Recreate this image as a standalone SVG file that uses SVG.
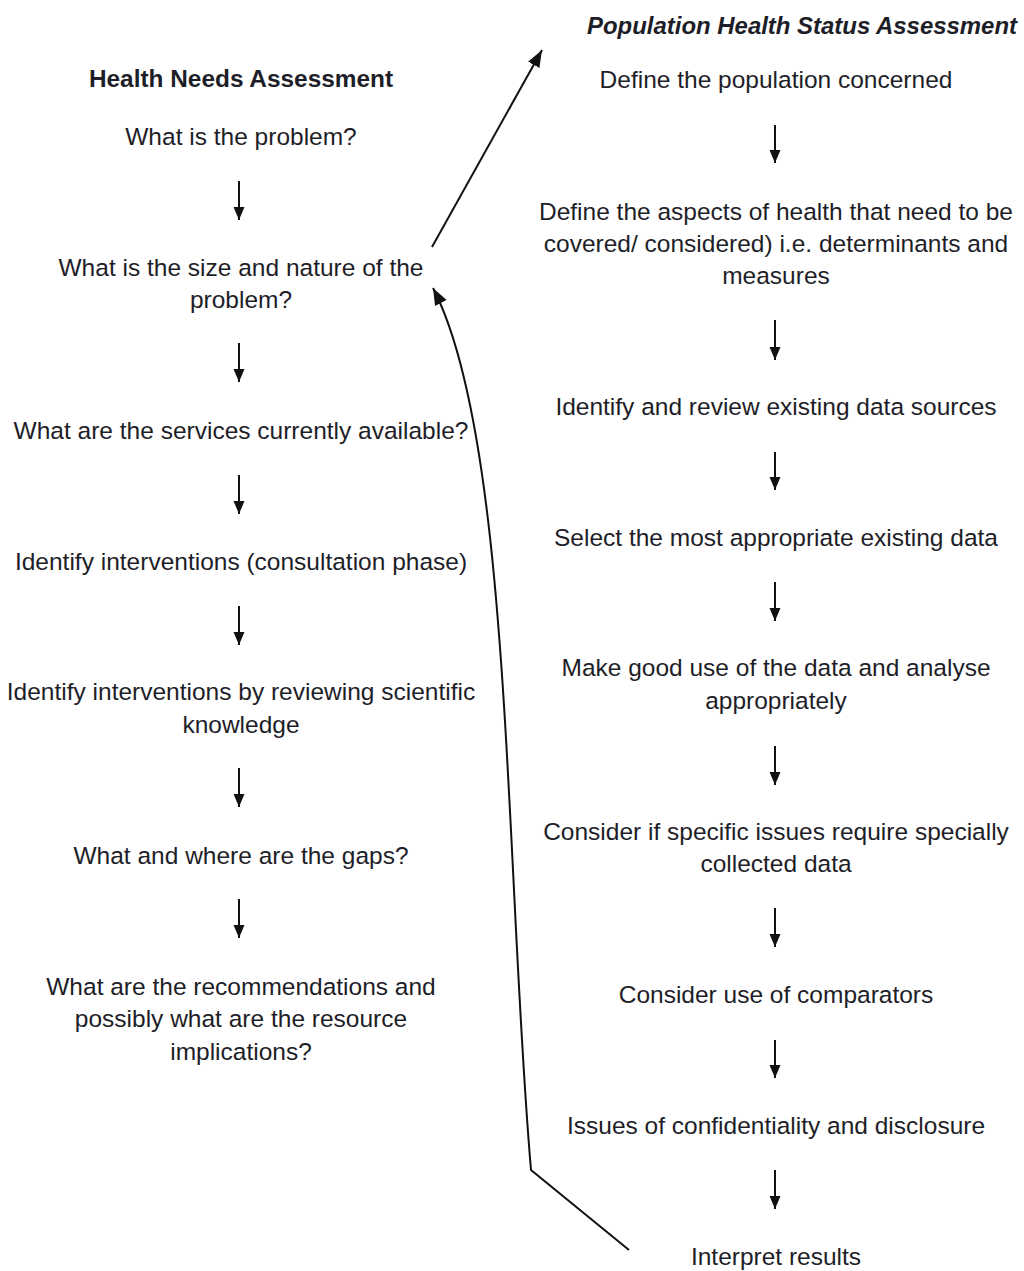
<svg xmlns="http://www.w3.org/2000/svg" width="1024" height="1271" viewBox="0 0 1024 1271">
<style>
.t{font-family:"Liberation Sans",Arial,sans-serif;font-size:24.5px;fill:#1e1e28;text-anchor:middle}
.h{font-family:"Liberation Sans",Arial,sans-serif;font-size:24.4px;font-weight:bold;fill:#1e1e28;text-anchor:middle}
.c{stroke:#111;stroke-width:2;fill:none}
</style>
<defs>
<marker id="a" markerUnits="userSpaceOnUse" markerWidth="14" markerHeight="14" viewBox="0 0 14 14" refX="13" refY="7" orient="auto">
<path d="M0,1.5 L13,7 L0,12.5 Z" fill="#111"/>
</marker>
<marker id="b" markerUnits="userSpaceOnUse" markerWidth="18" markerHeight="16" viewBox="0 0 18 16" refX="17" refY="8" orient="auto">
<path d="M0,1.5 L17,8 L0,14.5 Z" fill="#111"/>
</marker>
</defs>
<rect width="1024" height="1271" fill="#fff"/>
<g id="left-header"><text class="h" x="241" y="87">Health Needs Assessment</text></g>
<g id="right-header"><text class="h" x="802" y="34" font-style="italic" font-size="22" textLength="430" lengthAdjust="spacingAndGlyphs">Population  Health Status Assessment</text></g>
<g id="n1"><text class="t" x="241" y="145">What is the problem?</text></g>
<g id="n2"><text class="t" x="241" y="276">What is the size and nature of the</text><text class="t" x="241" y="308">problem?</text></g>
<g id="n3"><text class="t" x="241" y="439">What are the services currently available?</text></g>
<g id="n4"><text class="t" x="241" y="570">Identify interventions (consultation phase)</text></g>
<g id="n5"><text class="t" x="241" y="700">Identify interventions by reviewing scientific</text><text class="t" x="241" y="733">knowledge</text></g>
<g id="n6"><text class="t" x="241" y="864">What and where are the gaps?</text></g>
<g id="n7"><text class="t" x="241" y="995">What are the recommendations and</text><text class="t" x="241" y="1027">possibly what are the resource</text><text class="t" x="241" y="1060">implications?</text></g>
<g id="r1"><text class="t" x="776" y="88">Define the population concerned</text></g>
<g id="r2"><text class="t" x="776" y="220">Define the aspects of health that need to be</text><text class="t" x="776" y="252">covered/ considered) i.e. determinants and</text><text class="t" x="776" y="284">measures</text></g>
<g id="r3"><text class="t" x="776" y="415">Identify and review existing data sources</text></g>
<g id="r4"><text class="t" x="776" y="546">Select the most appropriate existing data</text></g>
<g id="r5"><text class="t" x="776" y="676">Make good use of the data and analyse</text><text class="t" x="776" y="709">appropriately</text></g>
<g id="r6"><text class="t" x="776" y="840">Consider if specific issues require specially</text><text class="t" x="776" y="872">collected data</text></g>
<g id="r7"><text class="t" x="776" y="1003">Consider use of comparators</text></g>
<g id="r8"><text class="t" x="776" y="1134">Issues of confidentiality and disclosure</text></g>
<g id="r9"><text class="t" x="776" y="1265">Interpret results</text></g>
<g id="connectors">
<line class="c" x1="239" y1="181" x2="239" y2="220" marker-end="url(#a)"/>
<line class="c" x1="239" y1="343" x2="239" y2="382" marker-end="url(#a)"/>
<line class="c" x1="239" y1="475" x2="239" y2="514" marker-end="url(#a)"/>
<line class="c" x1="239" y1="606" x2="239" y2="645" marker-end="url(#a)"/>
<line class="c" x1="239" y1="768" x2="239" y2="807" marker-end="url(#a)"/>
<line class="c" x1="239" y1="899" x2="239" y2="938" marker-end="url(#a)"/>
<line class="c" x1="775" y1="125" x2="775" y2="163" marker-end="url(#a)"/>
<line class="c" x1="775" y1="320" x2="775" y2="360" marker-end="url(#a)"/>
<line class="c" x1="775" y1="452" x2="775" y2="490" marker-end="url(#a)"/>
<line class="c" x1="775" y1="582" x2="775" y2="621" marker-end="url(#a)"/>
<line class="c" x1="775" y1="746" x2="775" y2="785" marker-end="url(#a)"/>
<line class="c" x1="775" y1="908" x2="775" y2="947" marker-end="url(#a)"/>
<line class="c" x1="775" y1="1040" x2="775" y2="1078" marker-end="url(#a)"/>
<line class="c" x1="775" y1="1170" x2="775" y2="1209" marker-end="url(#a)"/>
<line class="c" x1="432" y1="247" x2="542" y2="50" marker-end="url(#b)"/>
<path class="c" d="M629,1250 L531,1170 C505,870 512,440 433,288" marker-end="url(#b)"/>
</g>
</svg>
